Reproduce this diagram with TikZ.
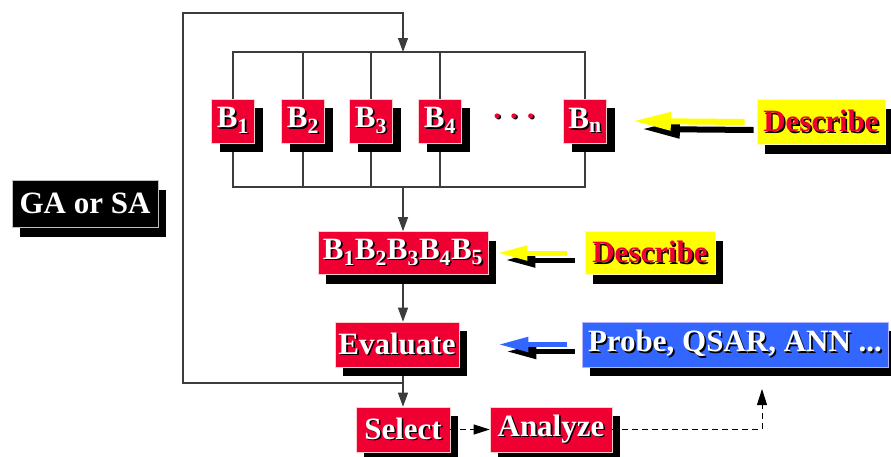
\documentclass[tikz,border=0pt]{standalone}
\usepackage{fontspec}
\setmainfont{Liberation Serif}
\usetikzlibrary{arrows.meta,shadows}
\definecolor{boxred}{RGB}{240,0,50}
\definecolor{boxblue}{RGB}{51,102,255}
\definecolor{boxyellow}{RGB}{255,255,0}
\definecolor{linegray}{RGB}{60,60,60}
% text with a small black shadow below right
\newcommand{\shd}[2]{\makebox[0pt][l]{\kern1.6pt\raisebox{-1.6pt}{\color{black}#2}}{\color{#1}#2}}
\pgfdeclarelayer{back}
\pgfsetlayers{back,main}
\tikzset{
  box/.style={draw=white!80!red, line width=0.6pt, inner sep=0pt,
    minimum height=45pt, font=\fontsize{31}{31}\selectfont\bfseries,
    drop shadow={shadow xshift=8pt, shadow yshift=-9pt, fill=black, opacity=1}},
  redbox/.style={box, fill=boxred},
  yellowbox/.style={box, fill=boxyellow, draw=white!70!yellow},
  bluebox/.style={box, fill=boxblue, draw=white!70!blue},
  blackbox/.style={box, fill=black, draw=white!75!black, line width=1pt},
  wire/.style={draw=linegray, line width=1.1pt},
  arr/.style={wire, -{Triangle[length=14pt,width=10pt]}},
  dasharr/.style={draw=black, line width=0.9pt, dash pattern=on 6pt off 4pt,
    -{Triangle[length=16pt,width=10pt]}},
  fat/.style={line width=6pt, -{Triangle[length=38pt,width=17pt]}},
  fatsmall/.style={line width=5pt, -{Triangle[length=30pt,width=14pt]}},
}
\begin{document}
\begin{tikzpicture}[x=1pt,y=-1pt]
  \useasboundingbox (0,0) rectangle (891,456);
  % blocks
  \node[redbox, minimum width=43pt, minimum height=44pt] (B1) at (233,121) {\shd{white}{B\textsubscript{1}}};
  \node[redbox, minimum width=43pt, minimum height=44pt] (B2) at (303,121) {\shd{white}{B\textsubscript{2}}};
  \node[redbox, minimum width=43pt, minimum height=44pt] (B3) at (371,121) {\shd{white}{B\textsubscript{3}}};
  \node[redbox, minimum width=43pt, minimum height=44pt] (B4) at (440,121) {\shd{white}{B\textsubscript{4}}};
  \node[font=\fontsize{31}{31}\selectfont\bfseries] (dots) at (514,117) {\shd{boxred}{.\hspace{9pt}.\hspace{9pt}.}};
  \node[redbox, minimum width=43pt, minimum height=44pt] (Bn) at (585,121) {\shd{white}{B\textsubscript{n}}};
  \node[yellowbox, minimum width=128pt] (dsc1) at (821,122) {\shd{boxred}{Describe}};
  \node[redbox, minimum width=170pt, minimum height=43pt] (Bs) at (403,253) {\shd{white}{B\textsubscript{1}B\textsubscript{2}B\textsubscript{3}B\textsubscript{4}B\textsubscript{5}}};
  \node[yellowbox, minimum width=130pt, minimum height=43pt] (dsc2) at (650,253) {\shd{boxred}{Describe}};
  \node[redbox, minimum width=124pt] (eval) at (397,344.5) {\shd{white}{Evaluate}};
  \node[bluebox, minimum width=306pt] (probe) at (735,344.5) {\shd{white}{Probe, QSAR, ANN ...}};
  \node[redbox, minimum width=94pt] (sel) at (403,429.5) {\shd{white}{Select}};
  \node[redbox, minimum width=122pt] (ana) at (551,429.5) {\shd{white}{Analyze}};
  \node[blackbox, minimum width=146pt, minimum height=47pt] (ga) at (85,204) {\shd{white}{GA or SA}};
  % connectors
  \coordinate (top) at (403,52);
  \coordinate (bot) at (403,187);
  \coordinate (jn) at (403,383);
  \coordinate (loopbl) at (183,383);
  \coordinate (looptl) at (183,13);
  \coordinate (up) at (762,389);
  \begin{pgfonlayer}{back}
    \draw[wire] (B1.north) |- (top) -| (Bn.north);
    \draw[wire] (B1.south) |- (bot) -| (Bn.south);
    \foreach \b in {B2,B3,B4} {
      \draw[wire] (\b.north) -- (\b.north |- top);
      \draw[wire] (\b.south) -- (\b.south |- bot);
    }
    \draw[arr] (jn) -- (loopbl) -- (looptl) -| (top);
    \draw[arr] (bot) -- (Bs.north);
    \draw[arr] (Bs.south) -- (eval.north -| Bs.south);
    \draw[arr] (eval.south -| Bs.south) -- (sel.north);
  \end{pgfonlayer}
  \draw[dasharr] (sel.east) -- (ana.west);
  \draw[dasharr] (ana.east) -| (up);
  % fat arrows with their shadows
  \draw[fat, black] ([shift={(-3pt,-8pt)}]dsc1.west) -- ([shift={(35pt,-8pt)}]Bn.east);
  \draw[fat, boxyellow] ([xshift=-12pt]dsc1.west) -- ([xshift=26pt]Bn.east);
  \draw[fatsmall, black] ([shift={(-10pt,-7pt)}]dsc2.west) -- ([shift={(17pt,-7pt)}]Bs.east);
  \draw[fatsmall, boxyellow] ([xshift=-18pt]dsc2.west) -- ([xshift=9pt]Bs.east);
  \draw[fatsmall, black] ([shift={(-7pt,-7pt)}]probe.west) -- ([shift={(47pt,-7pt)}]eval.east);
  \draw[fatsmall, boxblue] ([xshift=-15pt]probe.west) -- ([xshift=39pt]eval.east);
\end{tikzpicture}
\end{document}
